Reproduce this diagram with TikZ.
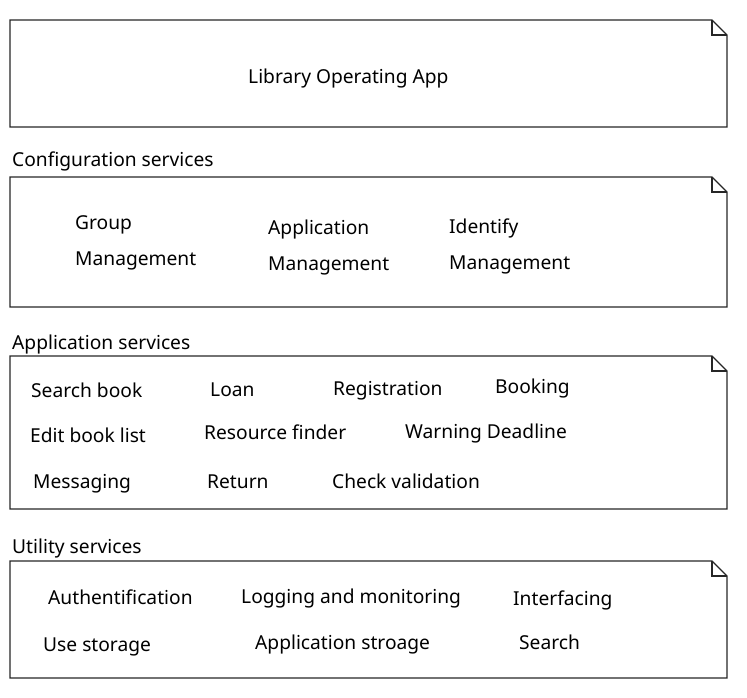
\documentclass[tikz,border=0pt]{standalone}
\usepackage{fontspec}
\setmainfont{Noto Sans}
\begin{document}
\begin{tikzpicture}[x=1pt,y=-1pt,
  lbl/.style={anchor=base west,inner sep=0pt,font=\fontsize{19.2}{22}\selectfont},
  boxline/.style={draw=black!85,line width=1.2pt,line join=miter}]
\useasboundingbox (0,0) rectangle (747,697);
\newcommand\notebox[3]{%
  \coordinate (#1-nw) at (10,#2);
  \coordinate (#1-se) at (727,#3);
  \draw[boxline] (10,#2) -- (712,#2) -- (727,#2+15) -- (727,#3) -- (10,#3) -- cycle;
  \draw[boxline] (712,#2) -- (712,#2+15) -- (727,#2+15);}
\notebox{app}{20}{127}
\notebox{conf}{177}{307}
\notebox{apps}{356}{509}
\notebox{util}{561}{678}
\node[lbl] (title) at (248,83) {Library Operating App};
\node[lbl] (confh) at (12,166) {Configuration services};
\node[lbl] (g1) at (75,229) {Group};
\node[lbl] (g2) at (75,265) {Management};
\node[lbl] (a1) at (268,234) {Application};
\node[lbl] (a2) at (268,270) {Management};
\node[lbl] (i1) at (449,233) {Identify};
\node[lbl] (i2) at (449,269) {Management};
\node[lbl] (appsh) at (12,349) {Application services};
\node[lbl] (sb) at (31,397) {Search book};
\node[lbl] (loan) at (210,396) {Loan};
\node[lbl] (reg) at (333,395) {Registration};
\node[lbl] (book) at (495,393) {Booking};
\node[lbl] (ebl) at (30,442) {Edit book list};
\node[lbl] (rf) at (204,439) {Resource finder};
\node[lbl] (wd) at (405,438) {Warning Deadline};
\node[lbl] (msg) at (33,488) {Messaging};
\node[lbl] (ret) at (207,488) {Return};
\node[lbl] (cv) at (332,488) {Check validation};
\node[lbl] (utilh) at (12,553) {Utility services};
\node[lbl] (auth) at (48,604) {Authentification};
\node[lbl] (log) at (241,603) {Logging and monitoring};
\node[lbl] (intf) at (513,605) {Interfacing};
\node[lbl] (us) at (43,651) {Use storage};
\node[lbl] (as) at (255,649) {Application stroage};
\node[lbl] (srch) at (519,649) {Search};
\end{tikzpicture}
\end{document}
